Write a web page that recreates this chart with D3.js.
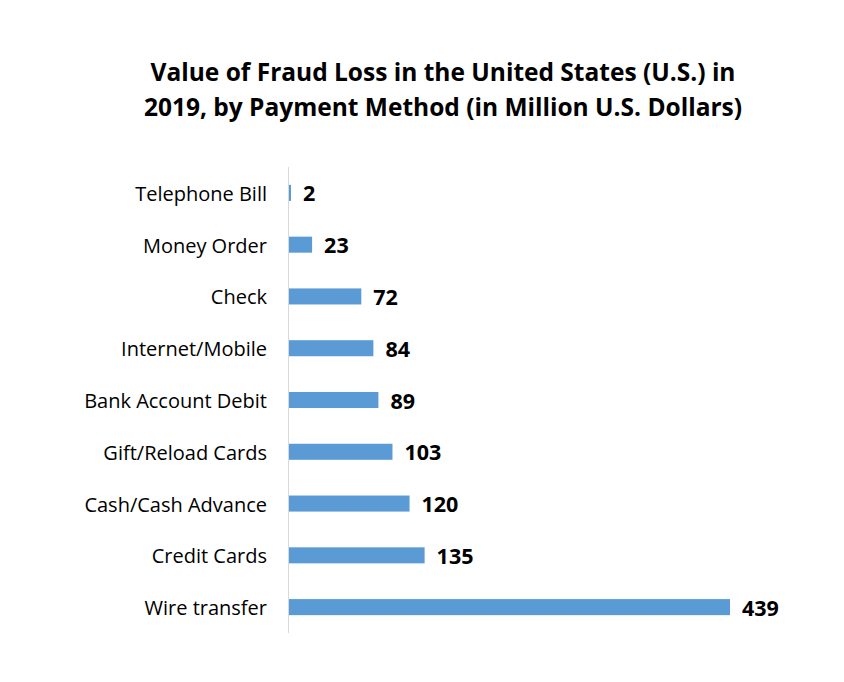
<!DOCTYPE html>
<html>
<head>
<meta charset="utf-8">
<script src="https://cdn.jsdelivr.net/npm/d3@7"></script>
<style>
  body { margin: 0; background: #fff; }
  text { font-family: "Open Sans", sans-serif; }
</style>
</head>
<body>
<div id="main"></div>
<script>
// data
const methods = ['Telephone Bill', 'Money Order', 'Check', 'Internet/Mobile', 'Bank Account Debit',
  'Gift/Reload Cards', 'Cash/Cash Advance', 'Credit Cards', 'Wire transfer'];
const losses = [2, 23, 72, 84, 89, 103, 120, 135, 439];

const titleLines = ['Value of Fraud Loss in the United States (U.S.) in',
  '2019, by Payment Method (in Million U.S. Dollars)'];

const w = 844;
const h = 682;

const svg = d3.select('#main').append('svg').attr('width', w).attr('height', h);

// title
svg.append('g')
  .selectAll('text')
  .data(titleLines)
  .enter()
  .append('text')
  .attr('x', 443)
  .attr('y', (d, i) => 81 + i * 35)
  .attr('text-anchor', 'middle')
  .attr('font-size', 24.5)
  .attr('font-weight', 'bold')
  .attr('fill', '#000')
  .text(d => d);

// scales
const x = d3.scaleLinear().domain([0, 439]).range([289, 730]);
const y = d3.scaleBand().domain(methods).range([167, 633]).paddingInner(0.69).paddingOuter(0.345);

// bars
svg.append('g')
  .selectAll('rect')
  .data(losses)
  .enter()
  .append('rect')
  .attr('x', x(0))
  .attr('y', (d, i) => y(methods[i]))
  .attr('width', d => x(d) - x(0))
  .attr('height', y.bandwidth())
  .attr('fill', '#5b9bd5');

// value labels
svg.append('g')
  .selectAll('text')
  .data(losses)
  .enter()
  .append('text')
  .attr('x', d => x(d) + 12)
  .attr('y', (d, i) => y(methods[i]) + y.bandwidth() / 2)
  .attr('dy', '0.4em')
  .attr('font-size', 21.5)
  .attr('font-weight', 'bold')
  .attr('fill', '#000')
  .text(d => d);

// category axis
const yAxis = d3.axisLeft(y).tickSize(0).tickPadding(21);
const ga = svg.append('g')
  .attr('transform', 'translate(288,0)')
  .call(yAxis);
ga.select('.domain').attr('stroke', '#d9d9d9').attr('d', 'M0.5,167V633');
ga.selectAll('text')
  .attr('font-size', 20)
  .attr('dy', '0.4em')
  .attr('fill', '#000')
  .style('font-family', '"Open Sans", sans-serif');
</script>
</body>
</html>
